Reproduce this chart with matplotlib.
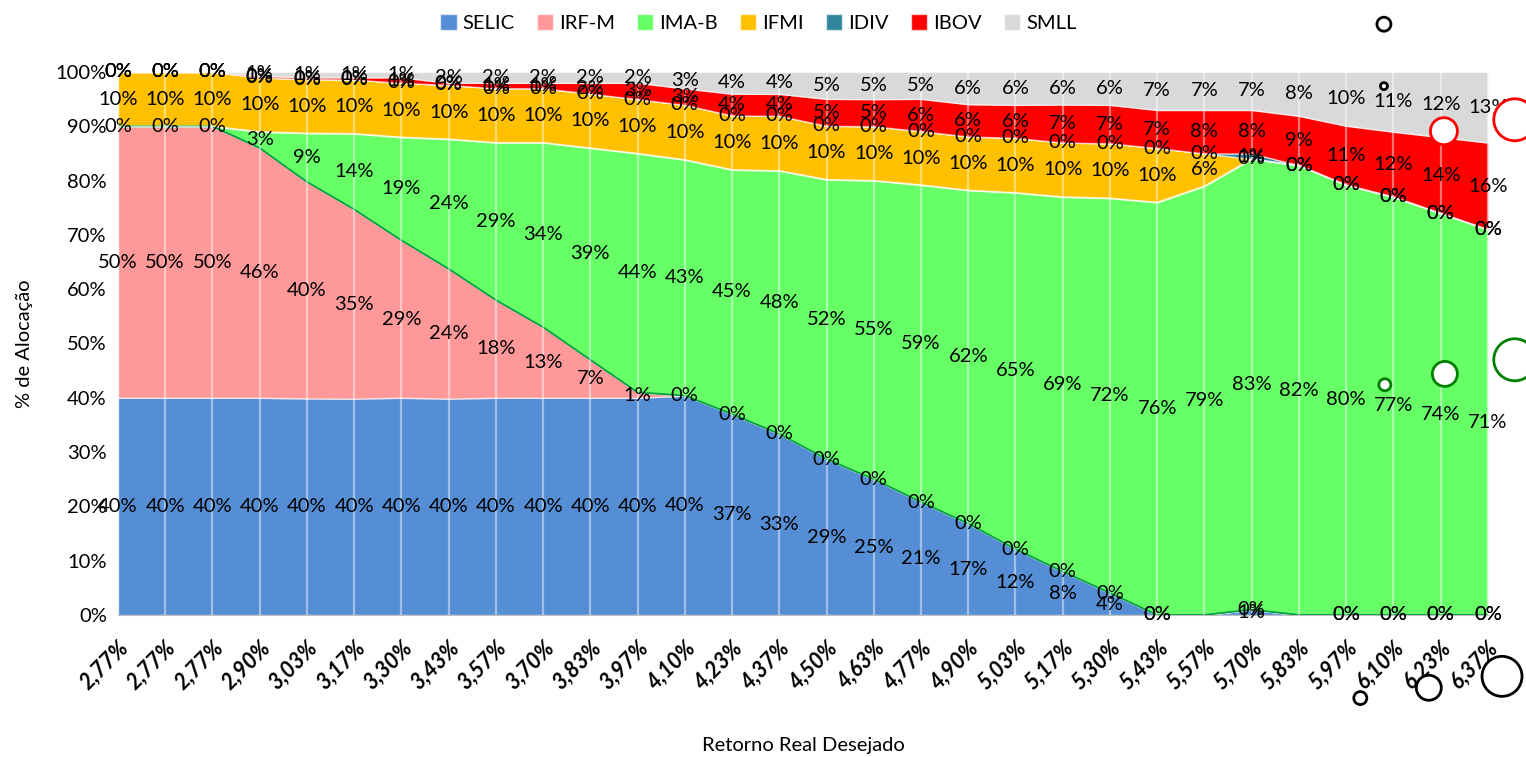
import numpy as np
import matplotlib
matplotlib.use("Agg")
import matplotlib.pyplot as plt

plt.rcParams['font.family'] = ['Lato', 'DejaVu Sans']

# Categories (retorno real desejado)
retornos = ['2,77%', '2,77%', '2,77%', '2,90%', '3,03%', '3,17%', '3,30%', '3,43%', '3,57%', '3,70%',
            '3,83%', '3,97%', '4,10%', '4,23%', '4,37%', '4,50%', '4,63%', '4,77%', '4,90%', '5,03%',
            '5,17%', '5,30%', '5,43%', '5,57%', '5,70%', '5,83%', '5,97%', '6,10%', '6,23%', '6,37%']

nan = np.nan
# allocation per asset (%), nan = blank cell
selic = [40, 40, 40, 40, 40, 40, 40, 40, 40, 40, 40, 40, 40, 37, 33, 29, 25, 21, 17, 12,
         8, 4, 0, nan, 1, nan, 0, 0, 0, 0]
irfm = [50, 50, 50, 46, 40, 35, 29, 24, 18, 13, 7, 1, 0, 0, 0, 0, 0, 0, 0, 0,
        0, 0, 0, nan, 0, nan, 0, 0, 0, 0]
imab = [0, 0, 0, 3, 9, 14, 19, 24, 29, 34, 39, 44, 43, 45, 48, 52, 55, 59, 62, 65,
        69, 72, 76, 79, 83, 82, 80, 77, 74, 71]
ifmi = [10, 10, 10, 10, 10, 10, 10, 10, 10, 10, 10, 10, 10, 10, 10, 10, 10, 10, 10, 10,
        10, 10, 10, 6, 0, 0, 0, 0, 0, 0]
idiv = [0, 0, 0, 0, 0, 0, 0, 0, 0, 0, 0, 0, 0, 0, 0, 0, 0, 0, 0, 0,
        0, 0, 0, 0, 1, 0, 0, 0, 0, 0]
ibov = [0, 0, 0, 0.3, 0.3, 0.4, 1, 0.4, 1, 1, 2, 3, 3, 4, 4, 5, 5, 6, 6, 6,
        7, 7, 7, 8, 8, 9, 11, 12, 14, 16]
smll = [0, 0, 0, 0.7, 1, 1, 1, 2, 2, 2, 2, 2, 3, 4, 4, 5, 5, 5, 6, 6,
        6, 6, 7, 7, 7, 8, 10, 11, 12, 13]

nomes = ['SELIC', 'IRF-M', 'IMA-B', 'IFMI', 'IDIV', 'IBOV', 'SMLL']
cores = ['#558ED5', '#FF9999', '#66FF66', '#FFC000', '#31859C', '#FF0000', '#D9D9D9']

# stray bubbles left over in the original picture (x in category index, y as fraction)
bolhas_preto_x = [26.8, 26.8, 26.3, 27.75, 29.3]
bolhas_preto_y = [1.088, 0.974, -0.153, -0.134, -0.113]
bolhas_preto_d = [14, 7, 13, 25, 40]
bolhas_verm_x = [28.07, 29.57]
bolhas_verm_y = [0.891, 0.912]
bolhas_verm_d = [27, 42]
bolhas_verde_x = [26.82, 28.09, 29.57]
bolhas_verde_y = [0.424, 0.444, 0.47]
bolhas_verde_d = [12, 25, 42]

series = [selic, irfm, imab, ifmi, idiv, ibov, smll]
vals = np.array(series, dtype=float)
filled = np.nan_to_num(vals)
total = filled.sum(axis=0)
frac = filled / total  # 100% stacked
x = np.arange(len(retornos))

fig = plt.figure(figsize=(15.26, 7.57), dpi=100)
ax = fig.add_axes([0.0773, 0.1876, 0.8977, 0.7173])

polys = ax.stackplot(x, *frac, colors=cores, labels=nomes)
for p in polys:
    p.set_edgecolor((1, 1, 1, 0.6))
    p.set_linewidth(1.0)

cum = np.cumsum(frac, axis=0)
# dark green outline of IMA-B
ax.plot(x, cum[1], color='#00A040', lw=1.3, zorder=3)
ax.plot(x, cum[2], color=(1, 1, 1, 0.7), lw=1.0, zorder=3)

# vertical white gridlines over the areas
for xi in x:
    ax.axvline(xi, color='white', alpha=0.45, lw=1.6, zorder=4)

# data labels, centered in each band
base = np.vstack([np.zeros(len(x)), cum[:-1]])
for i in range(len(series)):
    for j in range(len(x)):
        if np.isnan(vals[i, j]):
            continue
        yy = base[i, j] + frac[i, j] / 2
        ax.text(x[j], yy, '%.0f%%' % vals[i, j], ha='center', va='center',
                fontsize=14.5, color='black', zorder=6, clip_on=False)

for bx, by, bd, ec in [(bolhas_preto_x, bolhas_preto_y, bolhas_preto_d, 'black'),
                       (bolhas_verm_x, bolhas_verm_y, bolhas_verm_d, 'red'),
                       (bolhas_verde_x, bolhas_verde_y, bolhas_verde_d, 'green')]:
    ax.scatter(bx, by, s=(np.array(bd) * 0.72) ** 2, facecolor='white', edgecolor=ec,
               linewidth=2, zorder=7, clip_on=False)

ax.set_xlim(0, len(x) - 1)
ax.set_ylim(0, 1)
ax.set_yticks(np.arange(0, 1.01, 0.1))
ax.set_yticklabels(['%d%%' % v for v in range(0, 101, 10)], fontsize=14.5)
ax.set_xticks(x)
ax.set_xticklabels(retornos, rotation=45, ha='right', rotation_mode='anchor',
                   fontsize=15.5, fontweight='bold', fontstyle='italic')
ax.tick_params(axis='both', length=0, pad=8)
ax.tick_params(axis='x', pad=16)
for s in ['top', 'right', 'left']:
    ax.spines[s].set_visible(False)
ax.spines['bottom'].set_color('#BFBFBF')

ax.set_ylabel('% de Alocação', fontsize=14.5, labelpad=16)
ax.set_xlabel('Retorno Real Desejado', fontsize=14.5, labelpad=31)

fig.legend(*ax.get_legend_handles_labels(), loc='upper center', bbox_to_anchor=(0.497, 1.005),
           ncol=7, frameon=False, fontsize=14.5, handlelength=0.8, handleheight=0.8,
           handletextpad=0.3, columnspacing=1.1)

fig.savefig('out.png', dpi=100)
